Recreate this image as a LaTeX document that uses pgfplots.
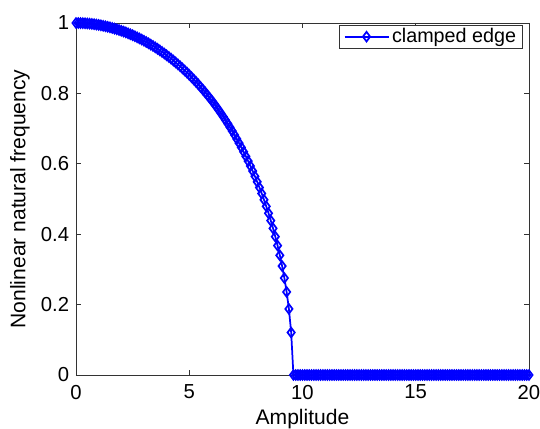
\documentclass[border=0pt]{standalone}
\usepackage{pgfplots}
\pgfplotsset{compat=1.18}
\usepackage{pgfplotstable}
\usepackage{fontspec}
\setmainfont{Liberation Sans}
\pgfplotstableread[row sep=\\]{
a f\\
0.0 1.00000\\ 0.1 0.99995\\ 0.2 0.99978\\ 0.3 0.99951\\ 0.4 0.99913\\
0.5 0.99863\\ 0.6 0.99803\\ 0.7 0.99732\\ 0.8 0.99650\\ 0.9 0.99557\\
1.0 0.99453\\ 1.1 0.99337\\ 1.2 0.99211\\ 1.3 0.99074\\ 1.4 0.98924\\
1.5 0.98764\\ 1.6 0.98593\\ 1.7 0.98409\\ 1.8 0.98215\\ 1.9 0.98009\\
2.0 0.97792\\ 2.1 0.97563\\ 2.2 0.97322\\ 2.3 0.97069\\ 2.4 0.96805\\
2.5 0.96528\\ 2.6 0.96239\\ 2.7 0.95938\\ 2.8 0.95624\\ 2.9 0.95298\\
3.0 0.94959\\ 3.1 0.94608\\ 3.2 0.94244\\ 3.3 0.93867\\ 3.4 0.93476\\
3.5 0.93072\\ 3.6 0.92655\\ 3.7 0.92224\\ 3.8 0.91779\\ 3.9 0.91319\\
4.0 0.90846\\ 4.1 0.90357\\ 4.2 0.89855\\ 4.3 0.89337\\ 4.4 0.88804\\
4.5 0.88255\\ 4.6 0.87690\\ 4.7 0.87109\\ 4.8 0.86512\\ 4.9 0.85898\\
5.0 0.85266\\ 5.1 0.84617\\ 5.2 0.83949\\ 5.3 0.83264\\ 5.4 0.82560\\
5.5 0.81836\\ 5.6 0.81092\\ 5.7 0.80327\\ 5.8 0.79542\\ 5.9 0.78735\\
6.0 0.77905\\ 6.1 0.77053\\ 6.2 0.76176\\ 6.3 0.75275\\ 6.4 0.74348\\
6.5 0.73395\\ 6.6 0.72414\\ 6.7 0.71404\\ 6.8 0.70364\\ 6.9 0.69293\\
7.0 0.68189\\ 7.1 0.67051\\ 7.2 0.65876\\ 7.3 0.64663\\ 7.4 0.63410\\
7.5 0.62114\\ 7.6 0.60772\\ 7.7 0.59382\\ 7.8 0.57940\\ 7.9 0.56440\\
8.0 0.54882\\ 8.1 0.53256\\ 8.2 0.51558\\ 8.3 0.49780\\ 8.4 0.47913\\
8.5 0.45948\\ 8.6 0.43868\\ 8.7 0.41659\\ 8.8 0.39299\\ 8.9 0.36759\\
9.0 0.33997\\ 9.1 0.30953\\ 9.2 0.27537\\ 9.3 0.23586\\ 9.4 0.18764\\
9.5 0.12071\\
9.6 0\\ 9.7 0\\ 9.8 0\\ 9.9 0\\ 10.0 0\\ 10.1 0\\ 10.2 0\\ 10.3 0\\ 10.4 0\\ 10.5 0\\
10.6 0\\ 10.7 0\\ 10.8 0\\ 10.9 0\\ 11.0 0\\ 11.1 0\\ 11.2 0\\ 11.3 0\\ 11.4 0\\ 11.5 0\\
11.6 0\\ 11.7 0\\ 11.8 0\\ 11.9 0\\ 12.0 0\\ 12.1 0\\ 12.2 0\\ 12.3 0\\ 12.4 0\\ 12.5 0\\
12.6 0\\ 12.7 0\\ 12.8 0\\ 12.9 0\\ 13.0 0\\ 13.1 0\\ 13.2 0\\ 13.3 0\\ 13.4 0\\ 13.5 0\\
13.6 0\\ 13.7 0\\ 13.8 0\\ 13.9 0\\ 14.0 0\\ 14.1 0\\ 14.2 0\\ 14.3 0\\ 14.4 0\\ 14.5 0\\
14.6 0\\ 14.7 0\\ 14.8 0\\ 14.9 0\\ 15.0 0\\ 15.1 0\\ 15.2 0\\ 15.3 0\\ 15.4 0\\ 15.5 0\\
15.6 0\\ 15.7 0\\ 15.8 0\\ 15.9 0\\ 16.0 0\\ 16.1 0\\ 16.2 0\\ 16.3 0\\ 16.4 0\\ 16.5 0\\
16.6 0\\ 16.7 0\\ 16.8 0\\ 16.9 0\\ 17.0 0\\ 17.1 0\\ 17.2 0\\ 17.3 0\\ 17.4 0\\ 17.5 0\\
17.6 0\\ 17.7 0\\ 17.8 0\\ 17.9 0\\ 18.0 0\\ 18.1 0\\ 18.2 0\\ 18.3 0\\ 18.4 0\\ 18.5 0\\
18.6 0\\ 18.7 0\\ 18.8 0\\ 18.9 0\\ 19.0 0\\ 19.1 0\\ 19.2 0\\ 19.3 0\\ 19.4 0\\ 19.5 0\\
19.6 0\\ 19.7 0\\ 19.8 0\\ 19.9 0\\ 20.0 0\\
}\clamped
\definecolor{mblue}{RGB}{0,0,255}
\begin{document}
\begin{tikzpicture}
\begin{axis}[
  name=ax,
  scale only axis,
  width=339.75pt, height=264pt,
  xmin=0, xmax=20, ymin=0, ymax=1,
  xtick={0,5,10,15,20},
  ytick={0,0.2,0.4,0.6,0.8,1},
  tick align=inside,
  major tick length=4pt,
  axis line style={line width=0.6pt, black!80},
  every tick/.style={line width=0.5pt, black!80},
  axis on top,
  clip=false,
  /pgf/number format/assume math mode=true,
  tick label style={font=\fontsize{15.2}{17}\selectfont},
  yticklabel style={inner xsep=5pt},
  xticklabel style={yshift=-4pt},
  xlabel={Amplitude},
  ylabel={Nonlinear natural frequency},
  every axis x label/.style={at={(axis description cs:0.5,-0.125)}, anchor=center, font=\fontsize{15.8}{18}\selectfont},
  every axis y label/.style={at={(axis description cs:-0.124,0.5)}, anchor=center, rotate=90, font=\fontsize{15.8}{18}\selectfont},
  legend style={
    at={(rel axis cs:0.987,0.995)}, anchor=north east,
    draw=black!80, line width=0.6pt,
    font=\fontsize{14.8}{17}\selectfont,
    inner xsep=3pt, inner ysep=0pt,
    nodes={inner ysep=2.5pt, inner xsep=2pt},
  },
  legend cell align=left,
  legend image code/.code={
    \draw[mark repeat=2, mark phase=2] plot coordinates {(0pt,0pt) (16.5pt,0pt) (33pt,0pt)};
  },
]
\addplot[color=mblue, line width=1.3pt, mark=diamond, mark size=3.6pt,
  mark options={solid, line width=1.3pt, fill=white}] table[x=a, y=f] {\clamped};
\addlegendentry{clamped edge}
\end{axis}
\pgfresetboundingbox
\path ([shift={(-57pt,-40.5pt)}]ax.south west) rectangle ([shift={(8.25pt,17.25pt)}]ax.north east);
\end{tikzpicture}
\end{document}
